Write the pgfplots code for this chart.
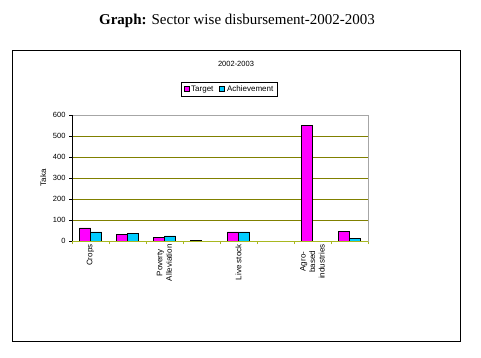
\documentclass[border=0pt]{standalone}
\usepackage{fontspec}
\setmainfont{Liberation Sans}
\newfontfamily\timesfont{Liberation Serif}
\usepackage{pgfplots}
\pgfplotsset{compat=1.18}
\definecolor{tgt}{HTML}{FF00FF}
\definecolor{ach}{HTML}{00CCFF}
\definecolor{gridc}{HTML}{808000}
\definecolor{xaxc}{HTML}{A8B820}
\begin{document}
\begin{tikzpicture}[x=1pt,y=1pt]
\useasboundingbox[fill=white] (0,0) rectangle (481,357);
\node[font=\timesfont\fontsize{15}{17}\selectfont] at (237,336) {\textbf{Graph:} Sector wise disbursement-2002-2003};
\draw[black, line width=1pt] (12.5,16) rectangle (460,307);
\node[font=\fontsize{7.5}{9}\selectfont] at (236,293) {2002-2003};
\begin{axis}[
  at={(72pt,116pt)}, anchor=south west,
  scale only axis, width=296pt, height=126pt,
  xmin=-0.5, xmax=7.5, ymin=0, ymax=600,
  ybar, bar width=0.3,
  ytick={0,100,...,600},
  xtick={-0.5,0.5,...,7.5}, xticklabels={},
  extra x ticks={0,2,4,6},
  extra x tick labels={Crops,{Poverty\\Alleviation},Live stock,{Agro-\\based\\industries}},
  extra x tick style={major tick length=0pt, tick label style={rotate=90, anchor=east, align=center, font=\fontsize{8}{9.5}\selectfont}},
  xtick pos=bottom, ytick pos=left,
  tick align=outside, major tick length=3pt,
  xtick style={color=xaxc}, ytick style={color=black},
  ymajorgrids, grid style={color=gridc, line width=0.8pt},
  axis line style={draw=gray!70},
  yticklabel style={font=\fontsize{7.5}{9}\selectfont},
  /pgf/number format/assume math mode=true,
  ylabel={Taka}, ylabel style={font=\fontsize{8}{9}\selectfont},
  legend columns=2,
  legend style={at={(0.532,1.206)}, anchor=center, draw=black, line width=0.6pt, font=\fontsize{8}{9.5}\selectfont, inner xsep=2pt, inner ysep=1.5pt, /tikz/every even column/.append style={column sep=4pt}},
  legend cell align=left,
  legend image code/.code={\draw[#1, line width=0.6pt] (0pt,-2.5pt) rectangle (5pt,2.5pt);},
  clip=false,
]
\addplot[fill=tgt, draw=black, line width=0.7pt, bar shift=-0.15] coordinates {(0,62) (1,33) (2,19) (3,4) (4,43) (6,551) (7,47)};
\addplot[fill=ach, draw=black, line width=0.7pt, bar shift=0.15] coordinates {(0,43) (1,38) (2,24) (4,43) (7,14)};
\legend{Target,Achievement}
\draw[black, line width=0.7pt] (rel axis cs:0,0) -- (rel axis cs:0,1);
\draw[xaxc, line width=0.8pt] (rel axis cs:0,0) -- (rel axis cs:1,0);
\end{axis}
\end{tikzpicture}
\end{document}
